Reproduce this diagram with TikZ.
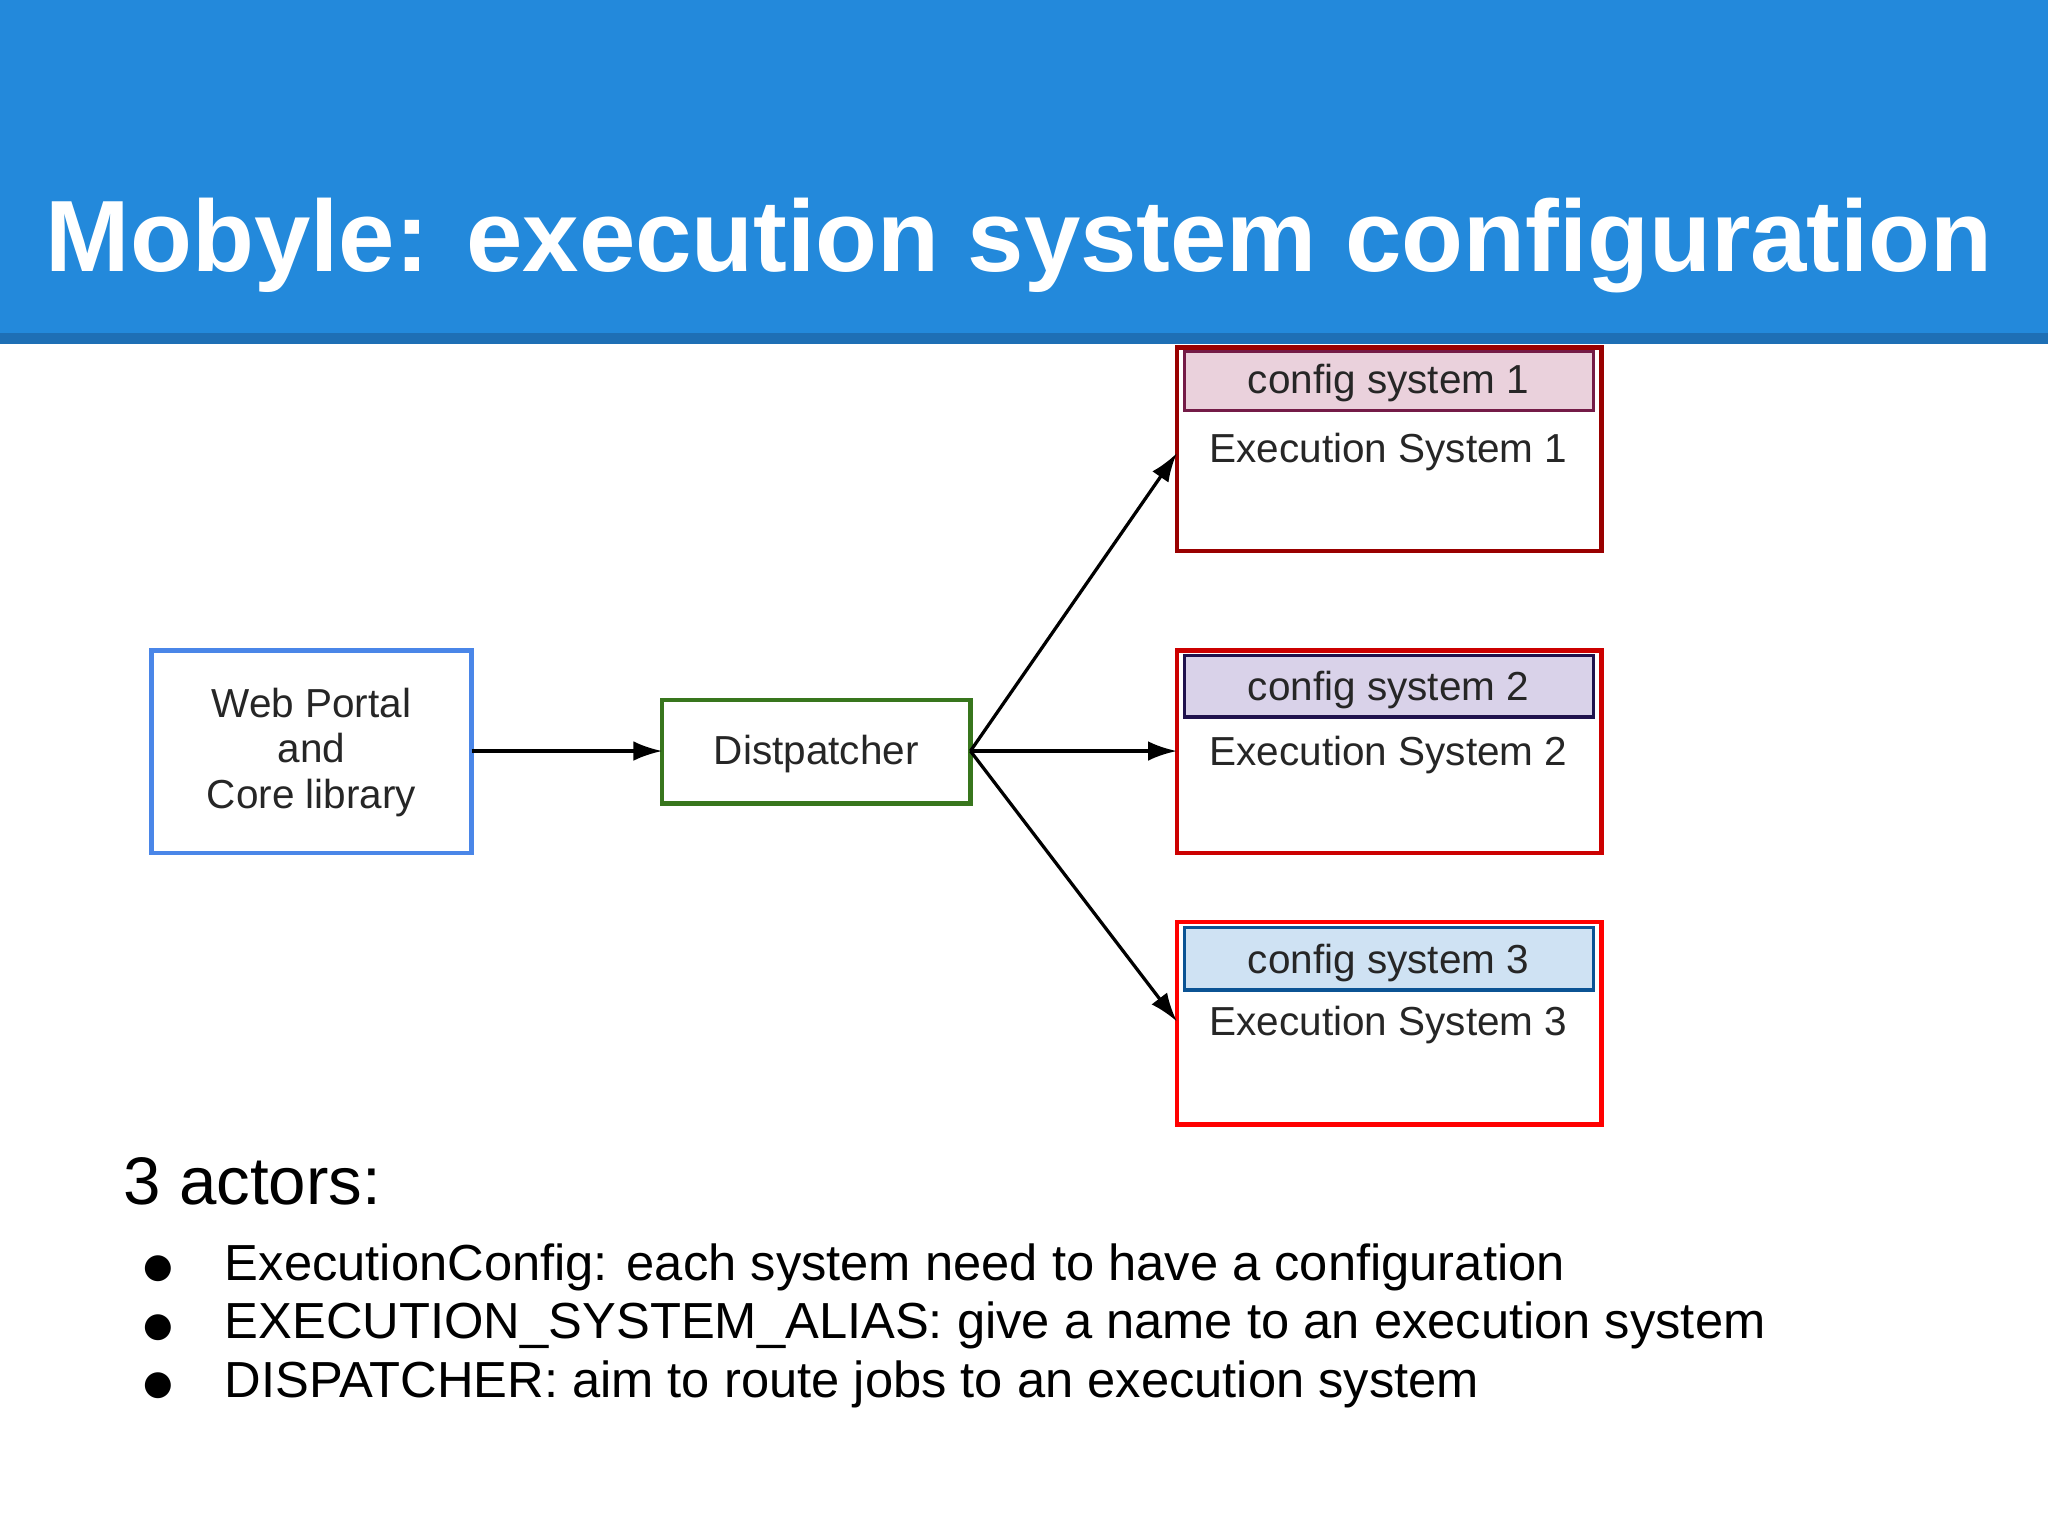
\documentclass[tikz,border=0pt]{standalone}
\usepackage{fontspec}
\setmainfont{Liberation Sans}
\newfontfamily\dejavu{DejaVu Sans}
\usetikzlibrary{arrows.meta}
\definecolor{band}{HTML}{2389DB}
\definecolor{bandd}{HTML}{1E6FB5}
\tikzset{x=1pt,y=-1pt,
 box/.style={draw,line width=3.5pt},
 lbl/.style={font=\fontsize{31}{35}\selectfont,align=center,text=black!85},
 arr/.style={-{Latex[length=22pt,width=15pt]},line width=2.5pt}}
\begin{document}
\begin{tikzpicture}
\useasboundingbox (0,0) rectangle (1568,1176);
\fill[white] (0,0) rectangle (1568,1176);
\fill[band] (0,0) rectangle (1568,256);
\fill[bandd] (0,255) rectangle (1568,263);
\node[anchor=base west,text=white,font=\bfseries\fontsize{77.6}{80}\selectfont,inner sep=0] (title) at (35,208) {Mobyle: execution system configuration};
% web portal
\draw[box,draw={rgb,255:red,74;green,134;blue,232}] (116,498) rectangle (361,653);
\node[lbl] (wp) at (238.5,576) {Web Portal\\and\\Core library};
\coordinate (wpE) at (361,575);
\draw[box,draw={rgb,255:red,56;green,118;blue,29}] (507,536) rectangle (743,615);
\node[lbl] (dp) at (625,577) {Distpatcher};
\coordinate (dpW) at (507,575);
\coordinate (dpE) at (743,575);
% ES1
\draw[box,draw={rgb,255:red,153;green,0;blue,0}] (901,266) rectangle (1226,422);
\draw[line width=2.5pt,draw={rgb,255:red,116;green,27;blue,71},fill={rgb,255:red,234;green,209;blue,220}] (907,269) rectangle (1220,314);
\node[lbl] (c1) at (1063,293) {config system 1};
\node[lbl] (e1) at (1063,346) {Execution System 1};
\coordinate (e1W) at (901,347);
% ES2
\draw[box,draw={rgb,255:red,204;green,0;blue,0}] (901,498) rectangle (1226,653);
\draw[line width=2.5pt,draw={rgb,255:red,32;green,18;blue,77},fill={rgb,255:red,217;green,210;blue,233}] (907,502) rectangle (1220,549);
\node[lbl] (c2) at (1063,528) {config system 2};
\node[lbl] (e2) at (1063,578) {Execution System 2};
\coordinate (e2W) at (901,575);
% ES3
\draw[box,draw={rgb,255:red,255;green,0;blue,0}] (901,706) rectangle (1226,861);
\draw[line width=2.5pt,draw={rgb,255:red,11;green,83;blue,148},fill={rgb,255:red,207;green,226;blue,243}] (907,710) rectangle (1220,758);
\node[lbl] (c3) at (1063,737) {config system 3};
\node[lbl] (e3) at (1063,785) {Execution System 3};
\coordinate (e3W) at (901,782);
% arrows
\draw[arr] (wpE) -- (dpW);
\draw[arr] (dpE) -- (e1W);
\draw[arr] (dpE) -- (e2W);
\draw[arr] (dpE) -- (e3W);
% text
\node[anchor=base west,inner sep=0,font=\fontsize{51.5}{60}\selectfont] (act) at (94,922) {3 actors:};
\foreach \y/\t [count=\i] in {980/{ExecutionConfig: each system need to have a configuration},1025/{EXECUTION\_SYSTEM\_ALIAS: give a name to an execution system},1070/{DISPATCHER: aim to route jobs to an execution system}}{
 \node[anchor=base west,inner sep=0,font=\dejavu\fontsize{26}{44}\selectfont] (b\i) at (110,\y-2) {●};
 \node[anchor=base west,inner sep=0,font=\fontsize{38.8}{44}\selectfont] (t\i) at (172,\y) {\t};
}
\end{tikzpicture}
\end{document}
